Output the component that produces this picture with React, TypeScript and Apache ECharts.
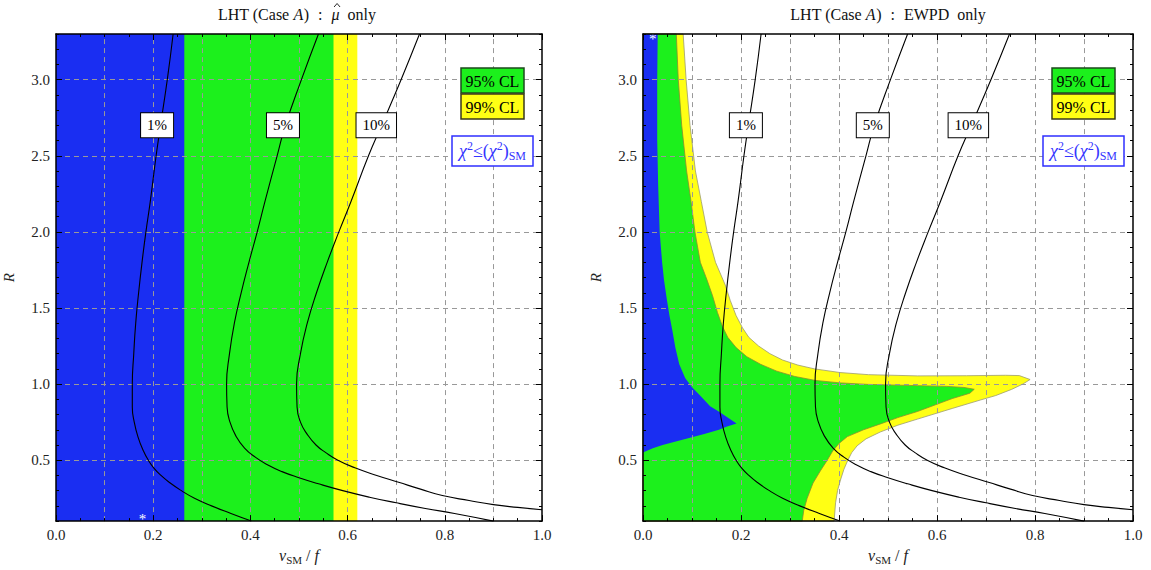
import React, { useEffect, useRef } from "react";
import * as echarts from "echarts";

type P = [number, number];

const X_MIN = 0;
const X_MAX = 1;
const Y_MIN = 0.1;
const Y_MAX = 3.3;
const xGridValues = [0.1, 0.2, 0.3, 0.4, 0.5, 0.6, 0.7, 0.8, 0.9];
const yGridValues = [0.5, 1.0, 1.5, 2.0, 2.5, 3.0];
const yMajorTicks = [0.5, 1.0, 1.5, 2.0, 2.5, 3.0];

// fine-tuning contours (same in both panels)
const contour1: P[] = [
  [0.241, 3.3], [0.229, 3.0], [0.215, 2.7], [0.206, 2.5], [0.194, 2.2], [0.185, 2.0],
  [0.177, 1.8], [0.17, 1.6], [0.164, 1.4], [0.16, 1.2], [0.157, 1.0], [0.157, 0.85],
  [0.161, 0.75], [0.169, 0.65], [0.18, 0.56], [0.19, 0.5], [0.201, 0.45], [0.216, 0.4],
  [0.235, 0.35], [0.258, 0.3], [0.285, 0.25], [0.32, 0.2], [0.36, 0.15], [0.402, 0.1],
];
const contour5: P[] = [
  [0.54, 3.3], [0.505, 3.0], [0.472, 2.7], [0.455, 2.5], [0.43, 2.2], [0.414, 2.0],
  [0.397, 1.8], [0.381, 1.6], [0.367, 1.4], [0.357, 1.2], [0.351, 1.0], [0.352, 0.85],
  [0.358, 0.75], [0.37, 0.66], [0.388, 0.58], [0.41, 0.52], [0.435, 0.47], [0.465, 0.425],
  [0.5, 0.385], [0.54, 0.345], [0.59, 0.3], [0.645, 0.257], [0.7, 0.22], [0.76, 0.183],
  [0.82, 0.15], [0.9, 0.1],
];
const contour10: P[] = [
  [0.748, 3.3], [0.71, 3.0], [0.67, 2.7], [0.643, 2.5], [0.607, 2.2], [0.582, 2.0],
  [0.558, 1.8], [0.536, 1.6], [0.517, 1.4], [0.503, 1.2], [0.495, 1.0], [0.496, 0.85],
  [0.503, 0.75], [0.517, 0.67], [0.535, 0.6], [0.555, 0.55], [0.58, 0.5], [0.615, 0.45],
  [0.66, 0.4], [0.705, 0.355], [0.75, 0.31], [0.795, 0.268], [0.85, 0.235], [0.9, 0.208],
  [0.95, 0.19], [1.0, 0.175],
];
const contourNames = ["1%", "5%", "10%"];
const contourLabelsLeft: P[] = [[0.208, 2.7], [0.467, 2.7], [0.659, 2.7]];
const contourLabelsRight: P[] = [[0.21, 2.7], [0.469, 2.7], [0.664, 2.7]];

// left panel: mu-hat only (R independent bands)
const muChi2SMEdge = 0.264;
const mu95Edge = 0.571;
const mu99Edge = 0.62;
const muBestFit: P = [0.178, 0.112];

// right panel: EWPD only
const ewpd99: P[] = [
  [0, 3.3], [0.082, 3.3], [0.088, 3.0], [0.096, 2.7], [0.107, 2.4], [0.119, 2.2], [0.131, 2.0],
  [0.148, 1.8], [0.168, 1.65], [0.178, 1.55], [0.19, 1.45], [0.203, 1.37], [0.216, 1.307],
  [0.236, 1.25], [0.259, 1.2], [0.285, 1.158], [0.316, 1.125], [0.35, 1.1], [0.402, 1.076],
  [0.46, 1.062], [0.56, 1.054], [0.66, 1.055], [0.74, 1.058], [0.768, 1.056], [0.79, 1.03],
  [0.775, 1.0], [0.752, 0.965], [0.72, 0.925], [0.688, 0.895], [0.631, 0.84], [0.56, 0.77],
  [0.52, 0.73], [0.484, 0.685], [0.455, 0.64], [0.437, 0.595], [0.426, 0.55], [0.418, 0.5],
  [0.41, 0.44], [0.403, 0.37], [0.397, 0.3], [0.393, 0.22], [0.39, 0.1], [0, 0.1],
];
const ewpd95: P[] = [
  [0, 3.3], [0.068, 3.3], [0.072, 3.0], [0.079, 2.7], [0.089, 2.4], [0.098, 2.2], [0.106, 2.0],
  [0.117, 1.8], [0.13, 1.69], [0.142, 1.58], [0.152, 1.47], [0.162, 1.38], [0.173, 1.307],
  [0.19, 1.24], [0.212, 1.18], [0.24, 1.13], [0.273, 1.085], [0.31, 1.05], [0.352, 1.024],
  [0.402, 1.008], [0.46, 0.998], [0.56, 0.99], [0.62, 0.985], [0.655, 0.978], [0.676, 0.966],
  [0.667, 0.94], [0.631, 0.905], [0.56, 0.82], [0.52, 0.78], [0.486, 0.74], [0.45, 0.7],
  [0.417, 0.655], [0.4, 0.61], [0.387, 0.56], [0.376, 0.5], [0.362, 0.43], [0.347, 0.35],
  [0.335, 0.25], [0.328, 0.17], [0.325, 0.1], [0, 0.1],
];
const ewpdChi2SM: P[] = [
  [0, 3.3], [0.03, 3.3], [0.029, 3.0], [0.029, 2.6], [0.031, 2.3], [0.034, 2.0], [0.039, 1.8],
  [0.043, 1.68], [0.049, 1.55], [0.054, 1.45], [0.06, 1.35], [0.066, 1.24], [0.074, 1.13],
  [0.086, 1.04], [0.1, 0.98], [0.115, 0.93], [0.137, 0.855], [0.157, 0.815], [0.175, 0.775],
  [0.191, 0.742], [0.17, 0.72], [0.155, 0.7], [0.125, 0.672], [0.096, 0.648], [0.065, 0.622],
  [0.04, 0.6], [0.02, 0.578], [0.007, 0.56], [0, 0.55],
];
const ewpdBestFit: P = [0.02, 3.27];

const BLUE = "#1a2ef2";
const GREEN = "#1cf01c";
const YELLOW = "#ffff14";
const SERIF = "Liberation Serif";

const band = (x0: number, x1: number): P[] => [
  [x0, Y_MIN], [x1, Y_MIN], [x1, Y_MAX], [x0, Y_MAX],
];

type Piece = { t: string; it?: boolean; gap: number; hat?: boolean };

function measure(t: string, italic: boolean, size: number): number {
  const c = document.createElement("canvas").getContext("2d")!;
  c.font = `${italic ? "italic " : ""}${size}px "${SERIF}"`;
  return c.measureText(t).width;
}

function titleElements(cx: number, y: number, pieces: Piece[], size: number): any[] {
  const widths = pieces.map((p) => measure(p.t, !!p.it, size));
  const total = pieces.reduce((s, p, i) => s + p.gap + widths[i], 0);
  let x = cx - total / 2;
  const out: any[] = [];
  pieces.forEach((p, i) => {
    x += p.gap;
    out.push({ type: "text", x, y, style: { text: p.t, align: "left", verticalAlign: "middle",
      fontFamily: SERIF, fontSize: size, fontStyle: p.it ? "italic" : "normal", fill: "#111" } });
    if (p.hat) {
      const hx = x + widths[i] / 2 + 1.5;
      out.push({ type: "polyline", shape: { points: [[hx - 3, y - 7], [hx, y - 10.5], [hx + 3, y - 7]] },
        style: { stroke: "#111", lineWidth: 0.9, fill: "none" } });
    }
    x += widths[i];
  });
  return out;
}

function App() {
  const ref = useRef<HTMLDivElement>(null);
  useEffect(() => {
    document.body.style.margin = "0";
    const chart = echarts.init(ref.current!, null, { renderer: "svg" });

    const grids = [
      { left: 52, top: 34, width: 490, height: 489 },
      { left: 643, top: 34, width: 490, height: 489 },
    ];
    const xAxes: any[] = [];
    const yAxes: any[] = [];
    grids.forEach((_, g) => {
      const axisLine = { show: true, lineStyle: { color: "#000", width: 1.5 } };
      const base = { type: "value", gridIndex: g, min: X_MIN, max: X_MAX, interval: 0.2, z: 10,
        axisLine, splitLine: { show: false },
        axisTick: { inside: true, length: 6, lineStyle: { color: "#000", width: 1 } },
        minorTick: { show: true, splitNumber: 4, length: 3, lineStyle: { color: "#000", width: 1 } } };
      xAxes.push({ ...base, position: "bottom",
        axisLabel: { formatter: (v: number) => v.toFixed(1), fontFamily: SERIF, fontSize: 15, color: "#222", margin: 6 },
        name: "{i|v}{s|SM}{n| / }{i|f}", nameLocation: "middle", nameGap: 22,
        nameTextStyle: { fontFamily: SERIF, fontSize: 15, color: "#222",
          rich: {
            i: { fontFamily: SERIF, fontStyle: "italic", fontSize: 16, color: "#222", lineHeight: 20 },
            s: { fontFamily: SERIF, fontSize: 11, color: "#222", lineHeight: 12, verticalAlign: "bottom" },
            n: { fontFamily: SERIF, fontSize: 16, color: "#222", lineHeight: 20 },
          } } });
      xAxes.push({ ...base, position: "top", axisLabel: { show: false } });
      const ybase = { type: "value", gridIndex: g, min: Y_MIN, max: Y_MAX, z: 10, splitLine: { show: false } };
      yAxes.push({ ...ybase, position: "left", interval: 0.1, axisLine,
        axisTick: { inside: true, length: 3, lineStyle: { color: "#000" } },
        axisLabel: { fontFamily: SERIF, fontSize: 15, color: "#222", margin: 6,
          formatter: (v: number) => { const r = Math.round(v * 10); return r % 5 === 0 ? (r / 10).toFixed(1) : ""; } },
        name: "R", nameLocation: "middle", nameGap: 40, nameRotate: 90,
        nameTextStyle: { fontFamily: SERIF, fontStyle: "italic", fontSize: 15, color: "#222" } });
      yAxes.push({ ...ybase, position: "left", axisLine: { show: false }, axisLabel: { show: false },
        axisTick: { inside: true, length: 6, customValues: yMajorTicks, lineStyle: { color: "#000" } } });
      yAxes.push({ ...ybase, position: "right", interval: 0.1, axisLine, axisLabel: { show: false },
        axisTick: { inside: true, length: 3, lineStyle: { color: "#000" } } });
      yAxes.push({ ...ybase, position: "right", axisLine: { show: false }, axisLabel: { show: false },
        axisTick: { inside: true, length: 6, customValues: yMajorTicks, lineStyle: { color: "#000" } } });
    });

    const series: any[] = [];
    const poly = (g: number, pts: P[], fill: string, stroke: string | null, z: number) => ({
      type: "custom", xAxisIndex: 2 * g, yAxisIndex: 4 * g, z, silent: true,
      data: [pts[0]],
      renderItem: (_p: any, api: any) => ({
        type: "polygon",
        shape: { points: pts.map((p) => api.coord(p)) },
        style: { fill, stroke: stroke || "none", lineWidth: stroke ? 0.8 : 0 },
      }),
    });

    series.push(poly(0, band(X_MIN, mu99Edge), YELLOW, null, 1));
    series.push(poly(0, band(X_MIN, mu95Edge), GREEN, null, 1));
    series.push(poly(0, band(X_MIN, muChi2SMEdge), BLUE, null, 1));
    series.push(poly(1, ewpd99, YELLOW, "#9c9c70", 1));
    series.push(poly(1, ewpd95, GREEN, "#8c8c30", 1));
    series.push(poly(1, ewpdChi2SM, BLUE, null, 1));

    [0, 1].forEach((g) => {
      series.push({
        type: "line", xAxisIndex: 2 * g, yAxisIndex: 4 * g, z: 2, silent: true,
        data: [[0.5, 1]], symbol: "none", lineStyle: { opacity: 0 },
        markLine: {
          z: 2, silent: true, symbol: ["none", "none"], label: { show: false },
          lineStyle: { color: "#999", type: [5, 4], width: 1 },
          data: [...xGridValues.map((v) => ({ xAxis: v })), ...yGridValues.map((v) => ({ yAxis: v }))],
        },
      });
      [contour1, contour5, contour10].forEach((c) => {
        series.push({
          type: "line", xAxisIndex: 2 * g, yAxisIndex: 4 * g, z: 7, silent: true,
          data: c, smooth: 0.5, symbol: "none",
          lineStyle: { color: "#000", width: 1.1 },
        });
      });
      const lbl = g === 0 ? contourLabelsLeft : contourLabelsRight;
      series.push({
        type: "scatter", xAxisIndex: 2 * g, yAxisIndex: 4 * g, z: 9, silent: true,
        symbol: "rect", symbolSize: 1, itemStyle: { color: "rgba(0,0,0,0)", opacity: 1 },
        data: lbl.map((p, i) => ({ value: p, label: { formatter: contourNames[i] } })),
        label: { show: true, position: "inside", backgroundColor: "#ffffff", borderColor: "#000", borderWidth: 1,
          padding: [5, 6, 4, 6], fontFamily: SERIF, fontSize: 15, color: "#000" },
      });
      series.push({
        type: "scatter", xAxisIndex: 2 * g, yAxisIndex: 4 * g, z: 9, silent: true,
        symbol: "rect", symbolSize: 1, itemStyle: { color: "rgba(0,0,0,0)", opacity: 1 },
        data: [g === 0 ? muBestFit : ewpdBestFit],
        label: { show: true, position: "inside", formatter: "*", fontFamily: SERIF, fontSize: 15, color: "#fff" },
      });
    });

    const graphic: any[] = [];
    graphic.push(...titleElements(297, 14, [
      { t: "LHT (Case", gap: 0 }, { t: "A", it: true, gap: 4 }, { t: ")", gap: 0.5 },
      { t: ":", gap: 9 }, { t: "\u03bc", it: true, gap: 9, hat: true }, { t: "only", gap: 8 },
    ], 16));
    graphic.push(...titleElements(888, 14, [
      { t: "LHT (Case", gap: 0 }, { t: "A", it: true, gap: 4 }, { t: ")", gap: 0.5 },
      { t: ":", gap: 9 }, { t: "EWPD", gap: 9 }, { t: "only", gap: 8 },
    ], 16));
    [0, 591].forEach((dx) => {
      graphic.push({ type: "rect", shape: { x: 461 + dx, y: 68, width: 63, height: 25 },
        style: { fill: GREEN, stroke: "#1d4a1d", lineWidth: 1.5 }, z: 20 });
      graphic.push({ type: "text", x: 492.5 + dx, y: 81, z: 21, style: { text: "95% CL", align: "center",
        verticalAlign: "middle", fontFamily: SERIF, fontSize: 16, fill: "#000" } });
      graphic.push({ type: "rect", shape: { x: 461 + dx, y: 94, width: 63, height: 25 },
        style: { fill: YELLOW, stroke: "#3a3a1a", lineWidth: 1.5 }, z: 20 });
      graphic.push({ type: "text", x: 492.5 + dx, y: 107, z: 21, style: { text: "99% CL", align: "center",
        verticalAlign: "middle", fontFamily: SERIF, fontSize: 16, fill: "#000" } });
      graphic.push({ type: "rect", shape: { x: 452 + dx, y: 136, width: 81, height: 30 },
        style: { fill: "#fff", stroke: "#2f2fff", lineWidth: 1.5 }, z: 20 });
      graphic.push({ type: "text", x: 492.5 + dx, y: 151, z: 21, style: {
        text: "{c|\u03c7}{s|2}{n|\u2264(}{c|\u03c7}{s|2}{n|)}{b|SM}", align: "center", verticalAlign: "middle",
        rich: {
          c: { fontFamily: SERIF, fontStyle: "italic", fontSize: 18, fill: "#3434ff", lineHeight: 22 },
          n: { fontFamily: SERIF, fontSize: 18, fill: "#3434ff", lineHeight: 22 },
          s: { fontFamily: SERIF, fontSize: 12, fill: "#3434ff", lineHeight: 12, verticalAlign: "top" },
          b: { fontFamily: SERIF, fontSize: 12, fill: "#3434ff", lineHeight: 12, verticalAlign: "bottom" },
        } } });
    });

    chart.setOption({
      animation: false,
      backgroundColor: "#fff",
      grid: grids,
      xAxis: xAxes,
      yAxis: yAxes,
      series,
      graphic,
    });
    return () => chart.dispose();
  }, []);
  return <div ref={ref} style={{ width: 1151, height: 570 }} />;
}

export default App;
